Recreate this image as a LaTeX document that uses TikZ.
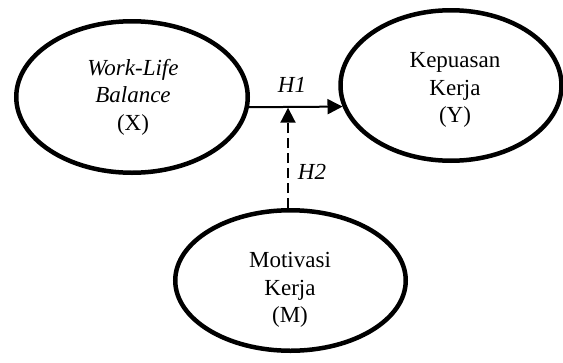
\documentclass[tikz,border=0pt]{standalone}
\usepackage{fontspec}
\setmainfont{Liberation Serif}
\usetikzlibrary{shapes.geometric,arrows.meta}
\begin{document}
\begin{tikzpicture}[x=1pt,y=-1pt,
  latent/.style={draw=black,line width=4.5pt,ellipse,inner sep=0pt},
  lbl/.style={align=center,font=\fontsize{23}{27.5}\selectfont,inner sep=0pt},
  hlbl/.style={font=\fontsize{23}{27.5}\selectfont\itshape,inner sep=0pt},
  arr/.style={line width=2pt,-{Triangle[length=15pt,width=15pt]}},
  darr/.style={arr,dash pattern=on 10pt off 5pt}]
\useasboundingbox (0,0) rectangle (563,362);
\node[latent,minimum width=231.5pt,minimum height=151.5pt] (X) at (132,97) {};
\node[latent,minimum width=221pt,minimum height=150.5pt] (Y) at (451,85.5) {};
\node[latent,minimum width=230.5pt,minimum height=140.5pt] (M) at (290.5,280.5) {};
\node[lbl] (Xt) at (133,97) {\textit{Work-Life}\\\textit{Balance}\\(X)};
\node[lbl] (Yt) at (455,90) {Kepuasan\\Kerja\\(Y)};
\node[lbl] (Mt) at (290,290) {Motivasi\\Kerja\\(M)};
\draw[arr] (X.-5) -- (Y.191);
\coordinate (J) at (288,107.7);
\draw[darr] (M.north -| J) -- (J);
\node[hlbl] (H1) at (292,85) {H1};
\node[hlbl] (H2) at (312,172) {H2};
\end{tikzpicture}
\end{document}
